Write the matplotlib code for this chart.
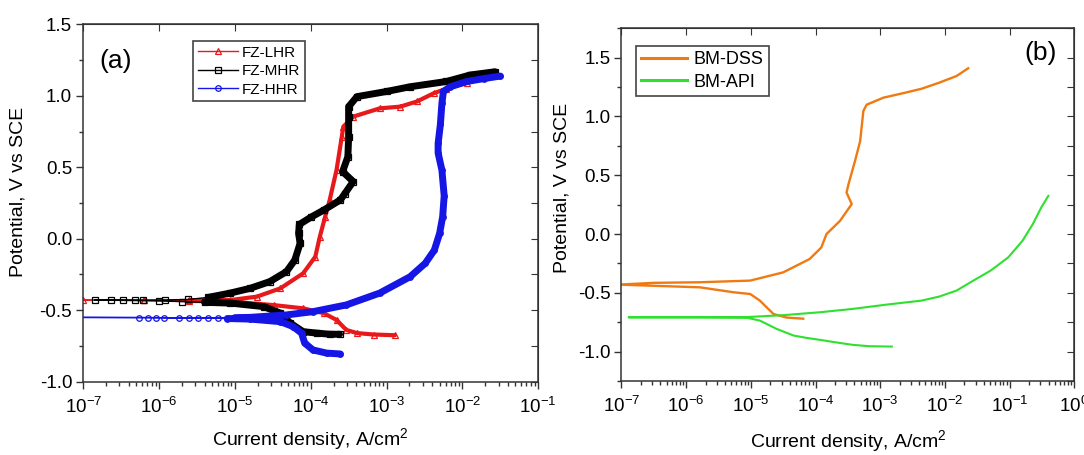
import matplotlib

matplotlib.use("Agg")
import matplotlib.pyplot as plt
import numpy as np
from matplotlib.ticker import (FormatStrFormatter, LogLocator, MultipleLocator,
                               NullFormatter, NullLocator)

plt.rcParams["font.family"] = ["Liberation Sans", "DejaVu Sans"]
plt.rcParams["axes.unicode_minus"] = False
plt.rcParams["mathtext.default"] = "regular"

# ---- panel (a): fusion zones, log10 current density (A/cm2) and potential (V vs SCE)
lhr_logi = [-2.89, -3.17, -3.39, -3.53, -3.66, -3.83, -4.10, -4.49, -5.06, -5.60,
            -6.20, -7.00, -6.20, -5.60, -5.06, -4.71, -4.40, -4.10, -3.94, -3.88,
            -3.81, -3.75, -3.66, -3.59, -3.57, -3.44, -3.09, -2.82, -2.60, -2.38,
            -2.21, -1.94]
lhr_e = [-0.675, -0.67, -0.66, -0.638, -0.568, -0.52, -0.487, -0.464, -0.44, -0.435,
         -0.432, -0.43, -0.43, -0.43, -0.429, -0.405, -0.347, -0.242, -0.126, 0.014,
         0.154, 0.271, 0.48, 0.714, 0.784, 0.854, 0.912, 0.924, 0.96, 1.017,
         1.05, 1.09]

mhr_logi = [-3.62, -3.75, -3.92, -4.10, -4.27, -4.40, -4.62, -5.06, -5.40, -5.70,
            -6.00, -6.32, -6.63, -6.85, -6.47, -6.21, -5.92, -5.62, -5.35, -5.06,
            -4.80, -4.54, -4.32, -4.21, -4.14, -4.16, -4.15, -4.00, -3.83, -3.61,
            -3.55, -3.44, -3.58, -3.51, -3.50, -3.50, -3.50, -3.39, -3.00, -2.69,
            -2.21, -1.90, -1.57]
mhr_e = [-0.668, -0.668, -0.66, -0.65, -0.59, -0.52, -0.475, -0.45, -0.445, -0.44,
         -0.435, -0.432, -0.43, -0.43, -0.43, -0.43, -0.428, -0.425, -0.41, -0.38,
         -0.347, -0.30, -0.23, -0.149, -0.032, 0.038, 0.10, 0.15, 0.20, 0.271,
         0.316, 0.40, 0.47, 0.574, 0.714, 0.854, 0.924, 0.994, 1.03, 1.063,
         1.10, 1.145, 1.168]

hhr_logi = [-3.61, -3.79, -3.97, -4.08, -4.12, -4.23, -4.40, -4.80, -5.10, -5.35,
            -5.60, -5.93, -6.14, -7.30, -6.26, -6.04, -5.74, -5.49, -5.22, -5.00,
            -4.80, -4.32, -3.97, -3.53, -3.09, -2.69, -2.49, -2.37, -2.30, -2.26,
            -2.24, -2.27, -2.32, -2.32, -2.29, -2.27, -2.25, -2.16, -1.94, -1.72,
            -1.50]
hhr_e = [-0.806, -0.80, -0.778, -0.73, -0.661, -0.615, -0.58, -0.562, -0.558, -0.556,
         -0.555, -0.553, -0.552, -0.55, -0.551, -0.552, -0.553, -0.553, -0.552, -0.552,
         -0.55, -0.533, -0.51, -0.463, -0.38, -0.266, -0.172, -0.08, 0.038, 0.154,
         0.30, 0.48, 0.60, 0.667, 0.80, 0.947, 1.03, 1.063, 1.10, 1.12,
         1.138]

# ---- panel (b): base metals
dss_logi = [-4.19, -4.45, -4.65, -4.86, -5.01, -5.27, -5.79, -6.50, -7.05, -6.50,
            -5.79, -5.01, -4.50, -4.09, -3.91, -3.83, -3.62, -3.44, -3.52, -3.49,
            -3.39, -3.31, -3.26, -3.21, -2.95, -2.63, -2.36, -2.09, -1.82, -1.64]
dss_e = [-0.72, -0.71, -0.68, -0.566, -0.51, -0.495, -0.453, -0.44, -0.43, -0.415,
         -0.41, -0.396, -0.326, -0.212, -0.114, 0.0, 0.113, 0.255, 0.353, 0.424,
         0.62, 0.79, 1.047, 1.10, 1.16, 1.20, 1.236, 1.287, 1.344, 1.41]

api_logi = [-2.82, -3.17, -3.43, -3.70, -3.93, -4.14, -4.34, -4.60, -4.86, -5.06,
            -5.80, -6.89, -5.80, -5.06, -4.50, -3.93, -3.43, -2.90, -2.36, -2.09,
            -1.82, -1.56, -1.29, -1.02, -0.80, -0.64, -0.51, -0.40]
api_e = [-0.957, -0.954, -0.942, -0.92, -0.90, -0.883, -0.863, -0.807, -0.736, -0.712,
         -0.71, -0.708, -0.706, -0.706, -0.69, -0.665, -0.637, -0.60, -0.566, -0.532,
         -0.481, -0.396, -0.31, -0.198, -0.057, 0.085, 0.226, 0.325]

FRAME = "#333333"


def style_axes(ax, ylim, xmax):
    ax.set_xscale("log")
    ax.set_xlim(1e-7, xmax)
    ax.set_ylim(*ylim)
    ax.xaxis.set_major_locator(LogLocator(base=10, numticks=20))
    ax.xaxis.set_minor_locator(LogLocator(base=10, subs=np.arange(2, 10), numticks=20))
    ax.xaxis.set_minor_formatter(NullFormatter())
    ax.yaxis.set_major_locator(MultipleLocator(0.5))
    ax.yaxis.set_minor_locator(MultipleLocator(0.25))
    ax.yaxis.set_major_formatter(FormatStrFormatter("%.1f"))
    ax.tick_params(which="both", direction="out", top=False, right=False,
                   color=FRAME, width=1.0, labelsize=13.5)
    ax.tick_params(which="major", length=5)
    ax.tick_params(which="minor", length=3)
    ax.tick_params(axis="x", which="major", pad=6)
    ax.tick_params(axis="y", which="major", pad=3)
    for s in ax.spines.values():
        s.set_color(FRAME)
        s.set_linewidth(1.1)
    # mirrored ticks pointing inwards on top / right
    top = ax.secondary_xaxis("top")
    top.xaxis.set_major_locator(LogLocator(base=10, numticks=20))
    top.xaxis.set_minor_locator(NullLocator())
    top.tick_params(direction="in", length=5, color=FRAME, labeltop=False)
    top.spines["top"].set_color(FRAME)
    right = ax.secondary_yaxis("right")
    right.yaxis.set_major_locator(MultipleLocator(0.25))
    right.yaxis.set_minor_locator(NullLocator())
    right.tick_params(direction="in", length=5, color=FRAME, labelright=False)
    right.spines["right"].set_color(FRAME)
    ax.set_xlabel("Current density, A/cm$^2$", fontsize=14)
    ax.set_ylabel("Potential, V vs SCE", fontsize=14)


def draw_fz(ax, logi, e, color, marker, lw_thick, thresh, label):
    i = 10.0 ** np.asarray(logi)
    e = np.asarray(e)
    ax.plot(i, np.where(i >= thresh, e, np.nan), color=color, lw=lw_thick,
            solid_capstyle="round", solid_joinstyle="round")
    ax.plot(i, e, color=color, lw=1.0, marker=marker, ms=4, mfc="none", mew=0.9,
            label=label)


fig = plt.figure(figsize=(10.84, 4.55), dpi=100)
ax_a = fig.add_axes([0.0768, 0.1611, 0.4197, 0.7855])
ax_b = fig.add_axes([0.5733, 0.1626, 0.4177, 0.7752])

# (a)
draw_fz(ax_a, lhr_logi, lhr_e, "#e8191b", "^", 3.0, 2e-6, "FZ-LHR")
draw_fz(ax_a, mhr_logi, mhr_e, "black", "s", 5.0, 3e-6, "FZ-MHR")
draw_fz(ax_a, hhr_logi, hhr_e, "#1515e6", "o", 5.0, 7e-6, "FZ-HHR")
style_axes(ax_a, (-1.0, 1.5), 1e-1)
ax_a.xaxis.set_label_coords(0.498, -0.124)
ax_a.yaxis.set_label_coords(-0.124, 0.53)
ax_a.text(0.0714, 0.898, "(a)", transform=ax_a.transAxes, fontsize=19,
          ha="center", va="center")
leg = ax_a.legend(loc="upper left", bbox_to_anchor=(0.242, 0.953), fontsize=11,
                  fancybox=False, edgecolor="#444444", framealpha=1, borderaxespad=0,
                  handlelength=2.6, handletextpad=0.3, borderpad=0.3,
                  labelspacing=0.3)
leg.get_frame().set_linewidth(1.2)

# (b)
ax_b.plot(10.0 ** np.asarray(dss_logi), dss_e, color="#f07a12", lw=1.7,
          label="BM-DSS")
ax_b.plot(10.0 ** np.asarray(api_logi), api_e, color="#2fe02f", lw=1.5,
          label="BM-API")
style_axes(ax_b, (-1.25, 1.75), 1e0)
ax_b.xaxis.set_label_coords(0.502, -0.133)
ax_b.yaxis.set_label_coords(-0.113, 0.547)
ax_b.text(0.926, 0.929, "(b)", transform=ax_b.transAxes, fontsize=19,
          ha="center", va="center")
leg = ax_b.legend(loc="upper left", bbox_to_anchor=(0.032, 0.95), fontsize=13,
                  fancybox=False, edgecolor="#444444", framealpha=1, borderaxespad=0,
                  handlelength=2.5, handletextpad=0.4, borderpad=0.3,
                  labelspacing=0.3)
leg.get_frame().set_linewidth(1.2)
for ln in leg.get_lines():
    ln.set_linewidth(2.2)

fig.savefig("out.png", dpi=100)
